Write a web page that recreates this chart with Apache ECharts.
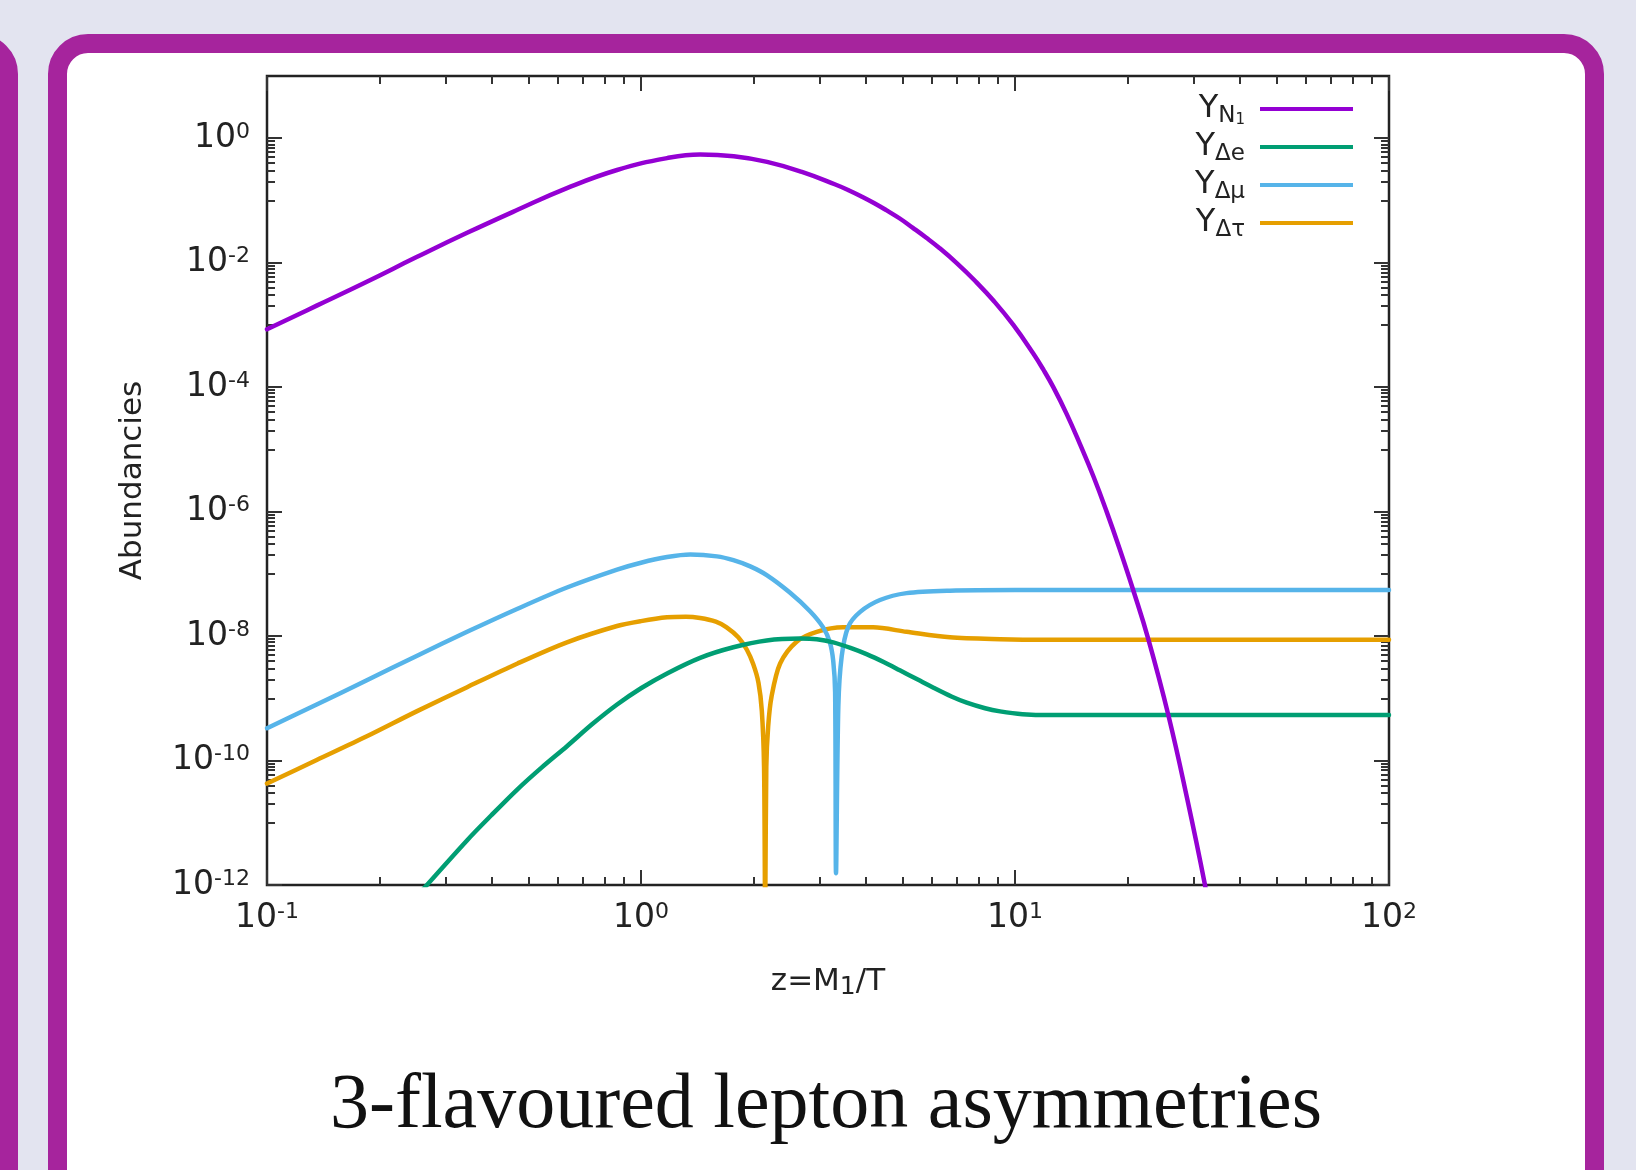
<!DOCTYPE html>
<html>
<head>
<meta charset="utf-8">
<script src="https://cdn.jsdelivr.net/npm/echarts@6/dist/echarts.min.js"></script>
<style>
html, body { margin: 0; padding: 0; }
body { width: 1636px; height: 1170px; overflow: hidden; background: #e3e4f0; position: relative; }
.card { position: absolute; box-sizing: border-box; border: 19px solid #a6249d; border-radius: 40px; background: #fff; }
#prev { left: -382px; top: 34px; width: 400px; height: 1200px; }
#card { left: 48px; top: 34px; width: 1556px; height: 1200px; }
#chart { position: absolute; left: 0; top: 0; width: 1636px; height: 1170px; }
</style>
</head>
<body>
<div class="card" id="prev"></div>
<div class="card" id="card"></div>
<div id="chart"></div>
<script>
// values (z = M1/T, abundance Y)
const zN1 = [0.1, 0.1358, 0.1849, 0.2512, 0.3428, 0.4677, 0.6339, 0.8630, 1.174, 1.439, 1.770, 2.173, 2.692, 3.296, 3.589, 3.899, 4.207, 4.539, 4.920, 5.333, 5.781, 6.266, 6.998, 7.816, 8.790, 9.897, 11.19, 11.91, 12.66, 13.74, 14.93, 16.22, 17.58, 19.05, 20.70, 22.75, 25.70, 28.84, 32.21, 33.50]
const yN1 = [8.51e-4, 2.04e-3, 4.95e-3, 1.23e-2, 3.02e-2, 7.08e-2, 0.158, 0.309, 0.479, 0.547, 0.513, 0.417, 0.288, 0.182, 0.1462, 0.1148, 0.0902, 0.0692, 0.0513, 0.0363, 0.0254, 0.0174, 9.77e-3, 5.13e-3, 2.40e-3, 1.0e-3, 3.47e-4, 1.91e-4, 1.0e-4, 3.72e-5, 1.20e-5, 3.63e-6, 1.0e-6, 2.51e-7, 5.5e-8, 8.7e-9, 5.4e-10, 2.5e-11, 1e-12, 2.5e-13]

const zDe = [0.25, 0.343, 0.398, 0.466, 0.543, 0.634, 0.741, 0.863, 1.0, 1.174, 1.439, 1.766, 2.168, 2.661, 2.951, 3.266, 3.631, 4.009, 4.467, 4.920, 5.495, 6.053, 6.761, 7.430, 8.318, 9.120, 10.47, 12.42, 100]
const yDe = [6.31e-13, 5.25e-12, 1.32e-11, 3.39e-11, 7.76e-11, 1.70e-10, 3.85e-10, 7.94e-10, 1.45e-9, 2.51e-9, 4.47e-9, 6.61e-9, 8.51e-9, 9.12e-9, 8.91e-9, 7.94e-9, 6.46e-9, 5.13e-9, 3.80e-9, 2.82e-9, 2.0e-9, 1.48e-9, 1.07e-9, 8.51e-10, 6.92e-10, 6.17e-10, 5.56e-10, 5.37e-10, 5.37e-10]

const zDmu = [0.1, 0.1358, 0.1849, 0.2512, 0.3428, 0.4677, 0.6339, 0.8630, 1.0, 1.174, 1.355, 1.596, 1.766, 1.959, 2.168, 2.500, 2.831, 3.069, 3.199, 3.266, 3.304, 3.322, 3.370, 3.440, 3.581, 3.855, 4.355, 5.129, 6.699, 10, 100]
const yDmu = [3.31e-10, 7.94e-10, 1.95e-9, 4.79e-9, 1.17e-8, 2.75e-8, 6.03e-8, 1.17e-7, 1.51e-7, 1.86e-7, 2.04e-7, 1.91e-7, 1.66e-7, 1.32e-7, 9.55e-8, 5.01e-8, 2.51e-8, 1.38e-8, 7.94e-9, 3.98e-9, 1.26e-9, 1.55e-12, 7.41e-10, 4.68e-9, 1.41e-8, 2.45e-8, 3.80e-8, 4.90e-8, 5.37e-8, 5.5e-8, 5.5e-8]

const zDtau = [0.1, 0.1358, 0.1849, 0.2512, 0.3428, 0.4677, 0.6339, 0.8630, 1.0, 1.174, 1.318, 1.439, 1.585, 1.694, 1.820, 1.919, 1.995, 2.061, 2.104, 2.133, 2.148, 2.163, 2.188, 2.234, 2.355, 2.606, 2.951, 3.475, 4.178, 5.129, 6.699, 9.120, 12.02, 100]
const yDtau = [4.27e-11, 1.02e-10, 2.45e-10, 6.17e-10, 1.51e-9, 3.63e-9, 7.94e-9, 1.45e-8, 1.74e-8, 2.0e-8, 2.04e-8, 1.95e-8, 1.70e-8, 1.38e-8, 9.55e-9, 6.03e-9, 3.55e-9, 1.78e-9, 6.31e-10, 7.94e-11, 3.16e-13, 7.94e-11, 3.55e-10, 1.07e-9, 3.63e-9, 8.13e-9, 1.17e-8, 1.38e-8, 1.38e-8, 1.17e-8, 9.55e-9, 8.91e-9, 8.71e-9, 8.71e-9]

// axis ticks
const xMajor = [0.1, 1, 10, 100]
const yMajor = [1e-12, 1e-10, 1e-8, 1e-6, 1e-4, 1e-2, 1]
const xMinor = []
xMajor.slice(0, 3).forEach(d => { for (let m = 2; m <= 9; m++) xMinor.push(m * d) })
const yMinor = []
yMajor.forEach(d => { for (let m = 1; m <= 9; m++) { const v = m * d / 10; if (v > 1e-12) yMinor.push(v) } })

const FONT = 'DejaVu Sans'
const INK = '#222'
const colors = ['#9400d3', '#009e73', '#56b4e9', '#e69f00']
const names = ['YN1', 'YDe', 'YDmu', 'YDtau']
const legendText = {
    YN1: '{y|Y}{s|N}{ss|1}',
    YDe: '{y|Y}{s|Δe}',
    YDmu: '{y|Y}{s|Δμ}',
    YDtau: '{y|Y}{s|Δτ}'
}

const powRich = {
    b: { fontSize: 33, lineHeight: 34, fontFamily: FONT, color: INK },
    e: { fontSize: 22, lineHeight: 20, verticalAlign: 'top', fontFamily: FONT, color: INK }
}
const powLabel = v => '{b|10}{e|' + Math.round(Math.log10(v)) + '}'

const tickStyle = { color: '#333', width: 2 }
const xBase = { type: 'log', logBase: 10, min: 0.0999999, max: 100.00001, axisLine: { show: false }, splitLine: { show: false }, axisLabel: { show: false } }
const yBase = { type: 'log', logBase: 10, min: 0.999999e-12, max: 10.00001, axisLine: { show: false }, splitLine: { show: false }, axisLabel: { show: false } }
const ticks = (vals, len) => ({ show: true, inside: true, length: len, customValues: vals, lineStyle: tickStyle })

const zip = (a, b) => a.map((v, i) => [v, b[i]])
const series = [[zN1, yN1], [zDe, yDe], [zDmu, yDmu], [zDtau, yDtau]].map(([z, y], i) => ({
    name: names[i],
    type: 'line',
    data: zip(z, y),
    showSymbol: false,
    smooth: i === 0 ? 0.45 : 0.3,
    clip: true,
    color: colors[i],
    lineStyle: { width: 4.5, color: colors[i], cap: 'round', join: 'round' },
    z: 10 - i
}))

const chart = echarts.init(document.getElementById('chart'))
chart.setOption({
    animation: false,
    backgroundColor: 'transparent',
    grid: { left: 267, right: 247, top: 76, bottom: 285, show: true, borderColor: INK, borderWidth: 2.5, backgroundColor: 'transparent', containLabel: false, outerBoundsMode: 'none' },
    xAxis: [
        Object.assign({}, xBase, {
            position: 'bottom',
            axisTick: ticks(xMajor, 15),
            axisLabel: { show: true, customValues: xMajor, formatter: powLabel, rich: powRich, margin: 16 },
            name: 'z=M{s|1}/T',
            nameLocation: 'middle',
            nameGap: 79,
            nameTextStyle: { fontFamily: FONT, fontSize: 31, color: INK, lineHeight: 36, rich: { s: { fontFamily: FONT, fontSize: 25, color: INK, lineHeight: 26, verticalAlign: 'bottom' } } }
        }),
        Object.assign({}, xBase, { position: 'bottom', axisTick: ticks(xMinor, 8) }),
        Object.assign({}, xBase, { position: 'top', axisTick: ticks(xMajor, 15) }),
        Object.assign({}, xBase, { position: 'top', axisTick: ticks(xMinor, 8) })
    ],
    yAxis: [
        Object.assign({}, yBase, {
            position: 'left',
            axisTick: ticks(yMajor, 15),
            axisLabel: { show: true, customValues: yMajor, formatter: powLabel, rich: powRich, margin: 17 },
            name: 'Abundancies',
            nameLocation: 'middle',
            nameGap: 119,
            nameTextStyle: { fontFamily: FONT, fontSize: 31, color: INK }
        }),
        Object.assign({}, yBase, { position: 'left', axisTick: ticks(yMinor, 8) }),
        Object.assign({}, yBase, { position: 'right', axisTick: ticks(yMajor, 15) }),
        Object.assign({}, yBase, { position: 'right', axisTick: ticks(yMinor, 8) })
    ],
    legend: {
        orient: 'vertical',
        right: 283,
        top: 93,
        padding: 0,
        itemGap: 3,
        itemWidth: 93,
        itemHeight: 4,
        icon: 'rect',
        align: 'right',
        data: names,
        formatter: n => legendText[n],
        textStyle: {
            fontFamily: FONT, color: INK, padding: [0, 10, 0, 0],
            rich: {
                y: { fontFamily: FONT, fontSize: 32, lineHeight: 38, color: INK },
                s: { fontFamily: FONT, fontSize: 23, lineHeight: 22, verticalAlign: 'bottom', color: INK },
                ss: { fontFamily: FONT, fontSize: 15, lineHeight: 10, verticalAlign: 'bottom', color: INK }
            }
        }
    },
    graphic: [{
        type: 'text',
        x: 826,
        y: 1146,
        style: { text: '3-flavoured lepton asymmetries', fontFamily: 'Liberation Serif', fontSize: 78, fill: '#111', align: 'center', verticalAlign: 'bottom' }
    }],
    series
})
</script>
</body>
</html>
